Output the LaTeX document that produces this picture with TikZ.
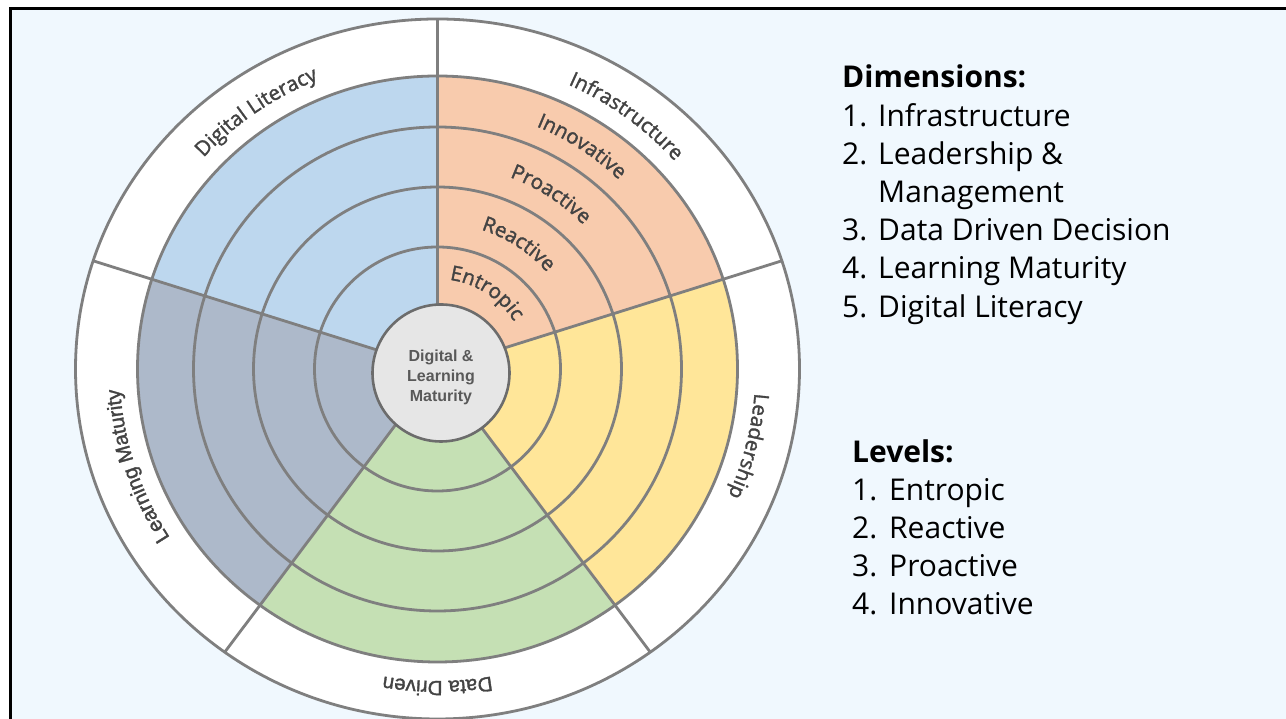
\documentclass[tikz,border=0pt]{standalone}
\usepackage{fontspec}
\setmainfont{Open Sans}
\newfontfamily\arialfont{Liberation Sans}
\newfontfamily\ringfam{Open Sans}[FakeBold=1.6]
\newfontfamily\arialringfam{Liberation Sans}[FakeBold=1.6]
\usetikzlibrary{decorations.text}

\definecolor{bgblue}{HTML}{F0F8FE}
\definecolor{ringgray}{HTML}{7F7F7F}
\definecolor{infracol}{HTML}{F8CBAD}
\definecolor{leadcol}{HTML}{FFE699}
\definecolor{datacol}{HTML}{C5E0B4}
\definecolor{learncol}{HTML}{ADB9CA}
\definecolor{litcol}{HTML}{BDD7EE}
\definecolor{coregray}{HTML}{E6E6E6}
\definecolor{labgray}{HTML}{434343}
\definecolor{coretext}{HTML}{595959}

\newcommand\ringfont{\ringfam\fontsize{20.5}{24}\selectfont\color{labgray}}
\newcommand\arialring{\arialringfam\fontsize{20.5}{24}\selectfont\color{labgray}}
% text set clockwise along an arc round (C): [font]{mid angle}{x radius}{y radius}{text}
\newcommand\arctext[5][\ringfont]{%
  \path[decorate,decoration={text along path,text align=center,text={|#1|#5}}]
    (C) ++(#2+55:#3 and #4) arc[start angle=#2+55,end angle=#2-55,x radius=#3,y radius=#4];}

\begin{document}
\begin{tikzpicture}[x=1pt,y=1pt]
\tikzstyle{ring}=[draw=ringgray,line width=2.8]
\tikzstyle{core}=[circle,fill=coregray,draw=ringgray!85!black,line width=2.6,
  minimum size=137,inner sep=0]
\tikzstyle{coretxt}=[align=center,text=coretext,inner sep=0,
  font=\arialfont\bfseries\fontsize{16}{20}\selectfont]
\tikzstyle{listhead}=[anchor=base west,inner sep=0,font=\fontsize{30}{36}\bfseries\selectfont]
\tikzstyle{listitem}=[anchor=base west,inner sep=0,font=\fontsize{30}{36}\selectfont]

\useasboundingbox (0,0) rectangle (1286,719);
\clip (0,0) rectangle (1286,719);
\fill[white] (0,0) rectangle (1286,719);
\draw[fill=bgblue,line width=2.6] (10.5,-20) rectangle (1320,710.5);

\coordinate (C) at (437.5,350);

%% Wheel: white label ring, coloured sectors, level rings
\draw[ring,fill=white] (C) ellipse [x radius=362,y radius=350];
\foreach \a/\col in {18/infracol,-54/leadcol,-126/datacol,162/learncol,90/litcol}
    \fill[\col] (C) -- ++(\a:300 and 293)
        arc[start angle=\a,delta angle=72,x radius=300,y radius=293] -- cycle;
\foreach \rx/\ry in {300/293,244/242,184/182,123/122}
    \draw[ring] (C) ellipse [x radius=\rx,y radius=\ry];
\foreach \a in {90,18,-54,-126,162}
    \draw[ring] (C) -- ++(\a:362 and 350);

%% Centre
\node[core] (core) at (441,346) {};
\node[coretxt,yshift=-4] (corelabel) at (core.center) {Digital \&\\Learning\\Maturity};

%% Dimension labels
\arctext{53.4}{318}{312}{Infrastructure}
\arctext{125}{318}{312}{Digital Literacy}
\arctext{-14}{318}{312}{Leadership}
\arctext[\arialring]{-90}{318}{312}{Data Driven}
\arctext[\arialring]{198}{318}{312}{Learning Maturity}

%% Level labels
\arctext{57}{262}{262}{Innovative}
\arctext{57}{205}{205}{Proactive}
\arctext{57}{146}{146}{Reactive}
\arctext{57}{90}{90}{Entropic}

%% Legend
\node[listhead] (dimhead) at (842,631) {Dimensions:};
\foreach \n/\t [count=\k] in {1./Infrastructure,2./Leadership \&,/Management,
    3./Data Driven Decision,4./Learning Maturity,5./Digital Literacy} {
    \node[listitem] (dimnum\k) at (842,631-38.2*\k) {\n};
    \node[listitem] (dimitem\k) at (878,631-38.2*\k) {\t};
}
\node[listhead] (levhead) at (852,256) {Levels:};
\foreach \n/\t [count=\k] in {1./Entropic,2./Reactive,3./Proactive,4./Innovative} {
    \node[listitem] (levnum\k) at (852,256-38*\k) {\n};
    \node[listitem] (levitem\k) at (889,256-38*\k) {\t};
}
\end{tikzpicture}
\end{document}
